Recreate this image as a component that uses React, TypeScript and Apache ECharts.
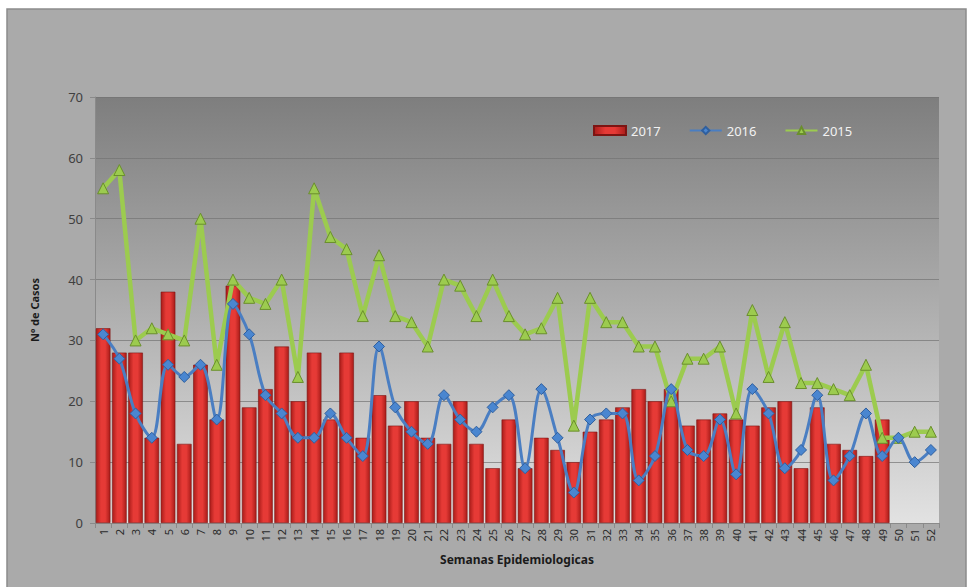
import React, { useEffect, useRef } from "react";
import * as echarts from "echarts";

const weeks: string[] = Array.from({ length: 52 }, (_, i) => String(i + 1));

const cases2017: (number | null)[] = [
  32, 28, 28, 14, 38, 13, 26, 17, 39, 19,
  22, 29, 20, 28, 17, 28, 14, 21, 16, 20,
  14, 13, 20, 13, 9, 17, 9, 14, 12, 10,
  15, 17, 19, 22, 20, 22, 16, 17, 18, 17,
  16, 19, 20, 9, 19, 13, 12, 11, 17, null,
  null, null,
];

const cases2016: number[] = [
  31, 27, 18, 14, 26, 24, 26, 17, 36, 31,
  21, 18, 14, 14, 18, 14, 11, 29, 19, 15,
  13, 21, 17, 15, 19, 21, 9, 22, 14, 5,
  17, 18, 18, 7, 11, 22, 12, 11, 17, 8,
  22, 18, 9, 12, 21, 7, 11, 18, 11, 14,
  10, 12,
];

const cases2015: number[] = [
  55, 58, 30, 32, 31, 30, 50, 26, 40, 37,
  36, 40, 24, 55, 47, 45, 34, 44, 34, 33,
  29, 40, 39, 34, 40, 34, 31, 32, 37, 16,
  37, 33, 33, 29, 29, 20, 27, 27, 29, 18,
  35, 24, 33, 23, 23, 22, 21, 26, 14, 14,
  15, 15,
];

const yTicks = { min: 0, max: 70, interval: 10 };

export default function App() {
  const ref = useRef<HTMLDivElement>(null);

  useEffect(() => {
    if (!ref.current) return;
    const chart = echarts.init(ref.current, undefined, { renderer: "svg" });
    const font = "'Noto Sans', 'Open Sans', sans-serif";
    chart.setOption({
      animation: false,
      backgroundColor: "#ffffff",
      textStyle: { fontFamily: font },
      graphic: [
        {
          type: "rect",
          z: -10,
          silent: true,
          shape: { x: 7, y: 9, width: 959, height: 590 },
          style: { fill: "#aaaaaa", stroke: "#8c8c8c", lineWidth: 1.5 },
        },
      ],
      legend: {
        top: 119,
        left: 588,
        itemGap: 28,
        itemWidth: 32,
        itemHeight: 9,
        textStyle: { color: "#f2f2f2", fontSize: 13, fontFamily: font },
        data: [
          { name: "2017", icon: "rect" },
          { name: "2016" },
          { name: "2015" },
        ],
      },
      grid: {
        left: 95,
        top: 97,
        right: 30,
        bottom: 64,
        show: true,
        borderWidth: 0,
        backgroundColor: new echarts.graphic.LinearGradient(0, 0, 0, 1, [
          { offset: 0, color: "#7e7e7e" },
          { offset: 0.45, color: "#a9a9a9" },
          { offset: 1, color: "#e2e2e2" },
        ]),
      },
      xAxis: {
        type: "category",
        data: weeks,
        boundaryGap: true,
        name: "Semanas Epidemiologicas",
        nameLocation: "middle",
        nameGap: 30,
        nameTextStyle: { color: "#1a1a1a", fontSize: 12, fontWeight: "bold", fontFamily: font },
        axisLine: { lineStyle: { color: "#8a8a8a" } },
        axisTick: { show: true, alignWithLabel: false, length: 5, lineStyle: { color: "#8a8a8a" } },
        axisLabel: { rotate: 90, interval: 0, color: "#2a2a2a", fontSize: 11, margin: 6, fontFamily: font },
        splitLine: { show: false },
      },
      yAxis: {
        type: "value",
        min: yTicks.min,
        max: yTicks.max,
        interval: yTicks.interval,
        name: "Nº de Casos",
        nameLocation: "middle",
        nameGap: 55,
        nameTextStyle: { color: "#1a1a1a", fontSize: 11, fontWeight: "bold", fontFamily: font },
        axisLine: { show: true, lineStyle: { color: "#8a8a8a" } },
        axisTick: { show: true, length: 5, lineStyle: { color: "#8a8a8a" } },
        axisLabel: { color: "#404040", fontSize: 13, margin: 12, fontFamily: font },
        splitLine: { show: true, lineStyle: { color: "#737373", width: 1, opacity: 0.7 } },
      },
      series: [
        {
          name: "2017",
          type: "bar",
          data: cases2017,
          barCategoryGap: "10%",
          itemStyle: {
            color: new echarts.graphic.LinearGradient(0, 0, 1, 0, [
              { offset: 0, color: "#a91c19" },
              { offset: 0.35, color: "#e63a36" },
              { offset: 0.65, color: "#e63a36" },
              { offset: 1, color: "#a91c19" },
            ]),
            borderColor: "#7d1412",
            borderWidth: 0.6,
          },
          z: 2,
        },
        {
          name: "2016",
          type: "line",
          data: cases2016,
          smooth: 0.35,
          symbol: "diamond",
          symbolSize: 11,
          lineStyle: { color: "#4a7ec2", width: 3 },
          itemStyle: { color: "#4a86d0", borderColor: "#2f5f9e", borderWidth: 1 },
          z: 4,
        },
        {
          name: "2015",
          type: "line",
          data: cases2015,
          smooth: false,
          symbol: "triangle",
          symbolSize: 11,
          lineStyle: { color: "#9ccb4f", width: 4.5 },
          itemStyle: { color: "#9ccb4f", borderColor: "#6a8f2c", borderWidth: 1 },
          z: 3,
        },
      ],
    });
    return () => chart.dispose();
  }, []);

  return (
    <div
      ref={ref}
      style={{ position: "absolute", left: 0, top: 0, width: 969, height: 587 }}
    />
  );
}
